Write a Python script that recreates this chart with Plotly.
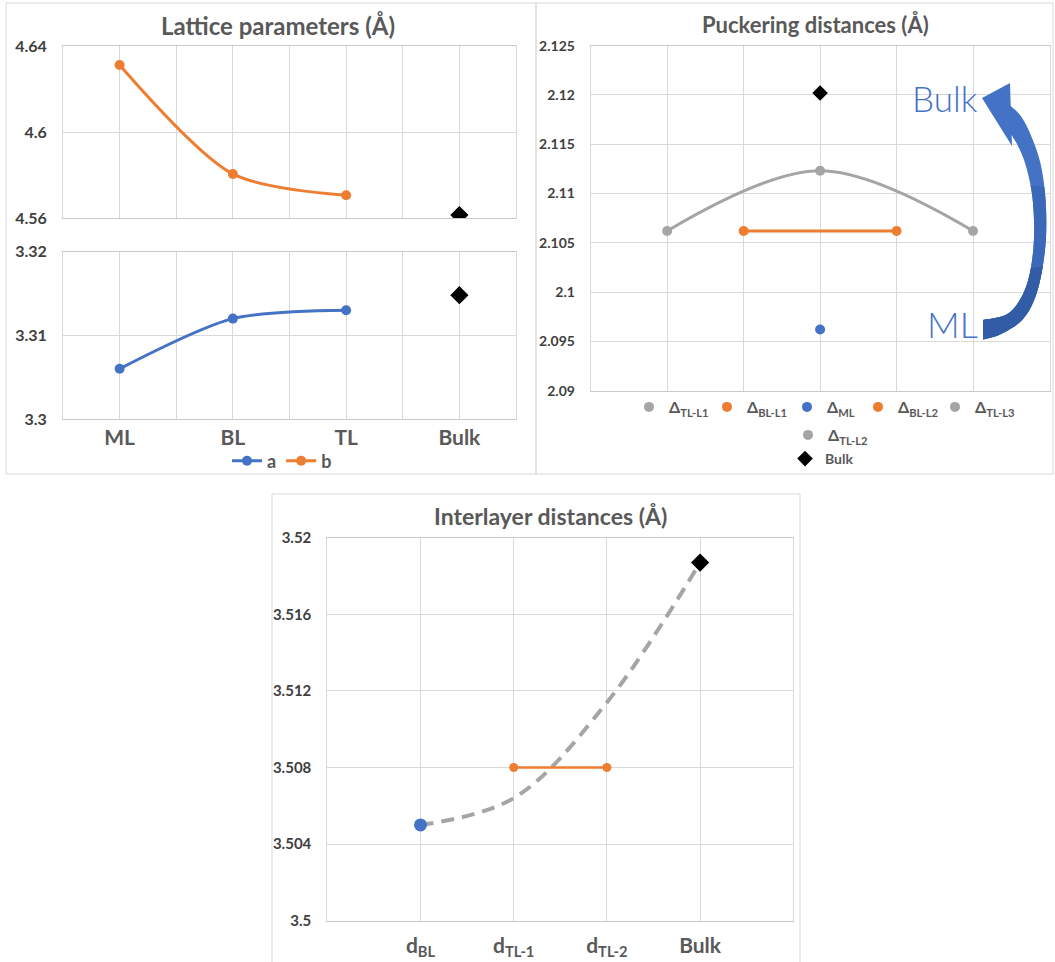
import plotly.graph_objects as go

W, H = 1055, 962

# ---------------- data ----------------
lat_categories = ["ML", "BL", "TL", "Bulk"]
lat_a = [3.3060, 3.3120, 3.3130]          # ML, BL, TL
lat_b = [4.6312, 4.5805, 4.5706]          # ML, BL, TL
lat_bulk_a = 3.3148
lat_bulk_b = 4.5614
lat_b_ticks = [4.56, 4.60, 4.64]
lat_b_ticktext = ["4.56", "4.6", "4.64"]
lat_a_ticks = [3.30, 3.31, 3.32]
lat_a_ticktext = ["3.3", "3.31", "3.32"]

puck_slots = ["TL-L1", "BL-L1", "ML", "BL-L2", "TL-L3"]
puck_names = ["Δ<sub>TL-L1</sub>", "Δ<sub>BL-L1</sub>", "Δ<sub>ML</sub>",
              "Δ<sub>BL-L2</sub>", "Δ<sub>TL-L3</sub>", "Δ<sub>TL-L2</sub>"]
puck_series_slot = ["TL-L1", "BL-L1", "ML", "BL-L2", "TL-L3", "ML"]
puck_values = [2.1062, 2.1062, 2.0962, 2.1062, 2.1062, 2.1123]
puck_bulk = 2.1202
puck_ticks = [2.09, 2.095, 2.1, 2.105, 2.11, 2.115, 2.12, 2.125]
puck_ticktext = ["2.09", "2.095", "2.1", "2.105", "2.11", "2.115", "2.12", "2.125"]

inter_categories = ["d<sub>BL</sub>", "d<sub>TL-1</sub>", "d<sub>TL-2</sub>", "Bulk"]
inter_bl = 3.5050
inter_tl = [3.5080, 3.5080]
inter_bulk = 3.5187
inter_trend = [3.5050, 3.5064, 3.5114, 3.5187]
inter_ticks = [3.5, 3.504, 3.508, 3.512, 3.516, 3.52]
inter_ticktext = ["3.5", "3.504", "3.508", "3.512", "3.516", "3.52"]

# ---------------- styles ----------------
BLUE, ORANGE, GRAY = "#4472C4", "#ED7D31", "#A5A5A5"
GRID = "#D9D9D9"
TXT = "#595959"
FONT = "Lato, 'Open Sans', sans-serif"
# legend placement (pixel x of each legend's left edge / centre y of each row)
PUCK_LEG_LEFT = [629, 707, 787, 858, 935, 788]
PUCK_LEG_Y = [407, 407, 407, 407, 407, 435]


def px_x(v):
    return v / W


def px_y(v):
    return 1 - v / H


def fam_color(name):
    if "TL" in name:
        return GRAY
    if "BL" in name:
        return ORANGE
    return BLUE


fig = go.Figure()

# ---------- panel 1 : lattice parameters ----------
lat_x = list(range(len(lat_categories)))
fig.add_trace(go.Scatter(
    x=lat_x[:len(lat_a)], y=lat_a, name="a", mode="lines+markers",
    line=dict(color=BLUE, width=3, shape="spline", smoothing=0.8),
    marker=dict(size=10, color=BLUE), xaxis="x2", yaxis="y2",
    legend="legend", legendrank=1))
fig.add_trace(go.Scatter(
    x=lat_x[:len(lat_b)], y=lat_b, name="b", mode="lines+markers",
    line=dict(color=ORANGE, width=3, shape="spline", smoothing=0.8),
    marker=dict(size=10, color=ORANGE), xaxis="x", yaxis="y",
    legend="legend", legendrank=2))
fig.add_trace(go.Scatter(
    x=[lat_x[-1]], y=[lat_bulk_b], mode="markers", showlegend=False,
    marker=dict(symbol="diamond", size=14, color="black"), xaxis="x", yaxis="y"))
fig.add_trace(go.Scatter(
    x=[lat_x[-1]], y=[lat_bulk_a], mode="markers", showlegend=False,
    marker=dict(symbol="diamond", size=14, color="black"), xaxis="x2", yaxis="y2"))

# ---------- panel 2 : puckering distances ----------
order = {s: i for i, s in enumerate(puck_slots)}
tl_idx = sorted([i for i, n in enumerate(puck_names) if "TL" in n],
                key=lambda i: order[puck_series_slot[i]])
bl_idx = sorted([i for i, n in enumerate(puck_names) if "BL" in n],
                key=lambda i: order[puck_series_slot[i]])
fig.add_trace(go.Scatter(
    x=[puck_series_slot[i] for i in tl_idx], y=[puck_values[i] for i in tl_idx],
    mode="lines", line=dict(color=GRAY, width=3, shape="spline", smoothing=1.0),
    showlegend=False, xaxis="x3", yaxis="y3"))
fig.add_trace(go.Scatter(
    x=[puck_series_slot[i] for i in bl_idx], y=[puck_values[i] for i in bl_idx],
    mode="lines", line=dict(color=ORANGE, width=3),
    showlegend=False, xaxis="x3", yaxis="y3"))
for i, (nm, sl, v) in enumerate(zip(puck_names, puck_series_slot, puck_values)):
    fig.add_trace(go.Scatter(
        x=[sl], y=[v], name=nm, mode="markers",
        marker=dict(size=10, color=fam_color(nm)),
        xaxis="x3", yaxis="y3", legend=f"legend{i + 2}"))
fig.add_trace(go.Scatter(
    x=["ML"], y=[puck_bulk], name="Bulk", mode="markers",
    marker=dict(symbol="diamond", size=12, color="black"),
    xaxis="x3", yaxis="y3", legend="legend8"))

# ---------- panel 3 : interlayer distances ----------
fig.add_trace(go.Scatter(
    x=inter_categories, y=inter_trend, mode="lines",
    line=dict(color=GRAY, width=4, dash="13px,8px", shape="spline", smoothing=1.0),
    showlegend=False, xaxis="x4", yaxis="y4"))
fig.add_trace(go.Scatter(
    x=inter_categories[1:3], y=inter_tl, mode="lines+markers",
    line=dict(color=ORANGE, width=2.5), marker=dict(size=9, color=ORANGE),
    showlegend=False, xaxis="x4", yaxis="y4"))
fig.add_trace(go.Scatter(
    x=[inter_categories[0]], y=[inter_bl], mode="markers",
    marker=dict(size=13, color=BLUE), showlegend=False, xaxis="x4", yaxis="y4"))
fig.add_trace(go.Scatter(
    x=[inter_categories[-1]], y=[inter_bulk], mode="markers",
    marker=dict(symbol="diamond", size=14, color="black"),
    showlegend=False, xaxis="x4", yaxis="y4"))

# ---------------- axes ----------------
ytick_font = lambda s: dict(family=FONT, size=s, color="#404040", weight="bold")
common_y = dict(showgrid=True, gridcolor=GRID, gridwidth=1, zeroline=False,
                showline=True, linecolor=GRID, mirror=True, ticks="",
                tickmode="array", automargin=False, ticklabelstandoff=12)
common_x = dict(showgrid=True, gridcolor=GRID, gridwidth=1, zeroline=False,
                showline=True, linecolor="#C9C9C9", mirror=True, ticks="",
                automargin=False)

p1x = [px_x(63), px_x(516)]
minor_vals = [i - 0.5 for i in range(len(lat_categories) + 1)]
lat_xaxis = dict(common_x, domain=p1x, range=[-0.5, len(lat_categories) - 0.5],
                 tickmode="array", tickvals=lat_x, ticktext=lat_categories,
                 minor=dict(tickmode="array", tickvals=minor_vals, showgrid=True,
                            gridcolor=GRID, gridwidth=1, ticks=""))

fig.update_layout(
    xaxis=dict(lat_xaxis, anchor="y", showticklabels=False),
    yaxis=dict(common_y, domain=[px_y(218), px_y(46)], anchor="x",
               range=[lat_b_ticks[0], lat_b_ticks[-1]],
               tickvals=lat_b_ticks, ticktext=lat_b_ticktext,
               tickfont=ytick_font(16)),
    xaxis2=dict(lat_xaxis, anchor="y2", showticklabels=True,
                tickfont=dict(family=FONT, size=21, color=TXT, weight="bold"),
                ticklabelstandoff=0),
    yaxis2=dict(common_y, domain=[px_y(419), px_y(251.7)], anchor="x2",
                range=[lat_a_ticks[0], lat_a_ticks[-1]],
                tickvals=lat_a_ticks, ticktext=lat_a_ticktext,
                tickfont=ytick_font(16)),
    xaxis3=dict(common_x, domain=[px_x(590.7), px_x(1049.5)], anchor="y3",
                type="category", categoryorder="array", categoryarray=puck_slots,
                range=[-1, len(puck_slots)], showticklabels=False),
    yaxis3=dict(common_y, domain=[px_y(390.7), px_y(45.6)], anchor="x3",
                range=[puck_ticks[0], puck_ticks[-1]],
                tickvals=puck_ticks, ticktext=puck_ticktext,
                tickfont=ytick_font(14)),
    xaxis4=dict(common_x, domain=[px_x(327.3), px_x(793.3)], anchor="y4",
                type="category", categoryorder="array", categoryarray=inter_categories,
                range=[-1, len(inter_categories)], showticklabels=True,
                tickfont=dict(family=FONT, size=21, color=TXT, weight="bold"),
                ticklabelstandoff=6),
    yaxis4=dict(common_y, domain=[px_y(920.7), px_y(537.7)], anchor="x4",
                range=[inter_ticks[0], inter_ticks[-1]],
                tickvals=inter_ticks, ticktext=inter_ticktext,
                tickfont=ytick_font(15)),
)

# ---------------- legends ----------------
leg_common = dict(orientation="h", xanchor="center", yanchor="middle",
                  bgcolor="rgba(0,0,0,0)", borderwidth=0, itemwidth=30,
                  font=dict(family=FONT, size=18, color=TXT, weight="bold"),
                  tracegroupgap=0)
legends = dict(legend=dict(leg_common, x=px_x(282), y=px_y(461)))
for k, (lx, ly) in enumerate(zip(PUCK_LEG_LEFT, PUCK_LEG_Y)):
    legends[f"legend{k + 2}"] = dict(
        leg_common, x=px_x(lx), y=px_y(ly), xanchor="left",
        font=dict(family=FONT, size=16, color=TXT, weight="bold"))
legends["legend8"] = dict(leg_common, x=px_x(822), y=px_y(459),
                          font=dict(family=FONT, size=14, color=TXT, weight="bold"))
fig.update_layout(**legends)

# ---------------- titles & annotations ----------------
def title(text, cx, cy, size):
    return dict(text=text, x=px_x(cx), y=px_y(cy), xref="paper", yref="paper",
                xanchor="center", yanchor="middle", showarrow=False,
                font=dict(family=FONT, size=size, color=TXT, weight="bold"))


annotations = [
    title("Lattice parameters (Å)", 278, 25, 24),
    title("Puckering distances (Å)", 815, 25, 22),
    title("Interlayer distances (Å)", 550, 516, 23),
    dict(text="Bulk", x=px_x(945), y=px_y(98), xref="paper", yref="paper",
         xanchor="center", yanchor="middle", showarrow=False,
         font=dict(family=FONT, size=35, color=BLUE, weight=300)),
    dict(text="ML", x=px_x(952), y=px_y(324), xref="paper", yref="paper",
         xanchor="center", yanchor="middle", showarrow=False,
         font=dict(family=FONT, size=36, color=BLUE, weight=300)),
]
fig.update_layout(annotations=annotations)


# ---------------- curved arrow (decoration) ----------------
def catmull(pts, n=8):
    out = []
    P = [pts[0]] + pts + [pts[-1]]
    for i in range(1, len(P) - 2):
        p0, p1, p2, p3 = P[i - 1], P[i], P[i + 1], P[i + 2]
        for k in range(n):
            t = k / n
            t2, t3 = t * t, t * t * t
            x = 0.5 * ((2 * p1[0]) + (-p0[0] + p2[0]) * t +
                       (2 * p0[0] - 5 * p1[0] + 4 * p2[0] - p3[0]) * t2 +
                       (-p0[0] + 3 * p1[0] - 3 * p2[0] + p3[0]) * t3)
            y = 0.5 * ((2 * p1[1]) + (-p0[1] + p2[1]) * t +
                       (2 * p0[1] - 5 * p1[1] + 4 * p2[1] - p3[1]) * t2 +
                       (-p0[1] + 3 * p1[1] - 3 * p2[1] + p3[1]) * t3)
            out.append((x, y))
    out.append(pts[-1])
    return out


def to_path(poly):
    return "M " + " L ".join(f"{px_x(x):.5f},{px_y(y):.5f}" for x, y in poly) + " Z"


outer_c = catmull([(1003, 100), (1020, 115), (1032, 138), (1041.5, 168), (1046, 208),
                   (1045, 250), (1037, 292), (1023, 319), (1001, 334), (983, 339.5)])
inner_c = catmull([(983, 320), (1009, 313), (1026, 287), (1033.5, 247),
                   (1033, 203), (1027, 170), (1018, 146), (1003, 122)])


def band(ymin):
    o = [p for p in outer_c if p[1] >= ymin]
    i = [p for p in inner_c if p[1] >= ymin]
    return o + i


head_poly = [(982, 98), (1010, 83), (1012, 146)]

shapes = [
    dict(type="path", path=to_path(band(0)), xref="paper", yref="paper",
         fillcolor="#4472C4", line=dict(width=0), layer="above"),
    dict(type="path", path=to_path(band(185)), xref="paper", yref="paper",
         fillcolor="#3C68B8", line=dict(width=0), layer="above"),
    dict(type="path", path=to_path(band(265)), xref="paper", yref="paper",
         fillcolor="#325CA6", line=dict(width=0), layer="above"),
    dict(type="path", path=to_path(head_poly), xref="paper", yref="paper",
         fillcolor="#4472C4", line=dict(width=0), layer="above"),
    # panel frames
    dict(type="rect", xref="paper", yref="paper", x0=px_x(6), x1=px_x(536),
         y0=px_y(474), y1=px_y(3), line=dict(color=GRID, width=1), layer="below"),
    dict(type="rect", xref="paper", yref="paper", x0=px_x(536), x1=px_x(1053),
         y0=px_y(474), y1=px_y(3), line=dict(color=GRID, width=1), layer="below"),
    dict(type="rect", xref="paper", yref="paper", x0=px_x(272), x1=px_x(800),
         y0=px_y(975), y1=px_y(494), line=dict(color=GRID, width=1), layer="below"),
]
fig.update_layout(shapes=shapes)

fig.update_layout(
    width=W, height=H, margin=dict(l=0, r=0, t=0, b=0),
    paper_bgcolor="white", plot_bgcolor="white",
    font=dict(family=FONT, color=TXT), hovermode=False,
)

fig.write_html("out.html")
